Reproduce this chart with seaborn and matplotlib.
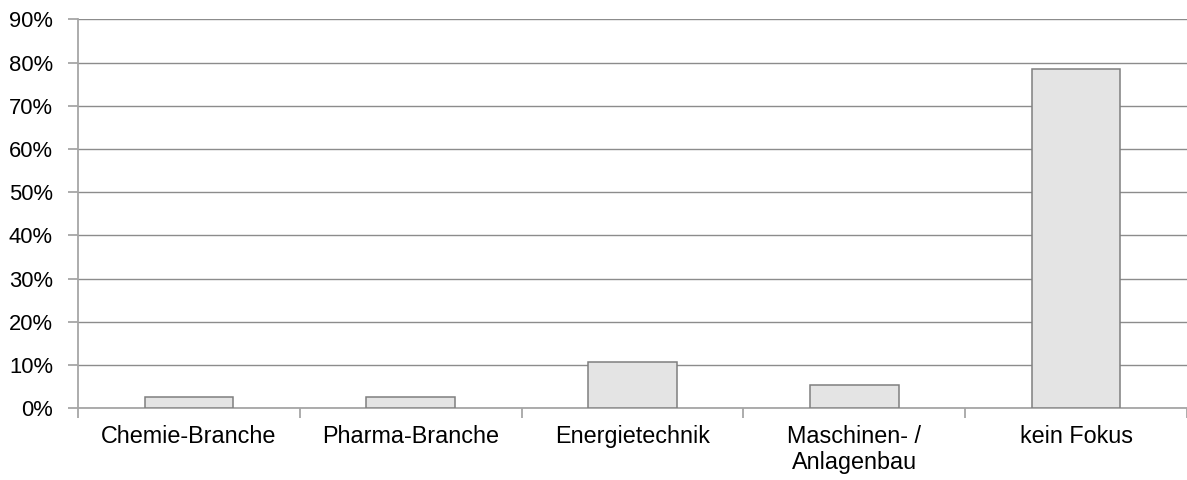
import matplotlib
matplotlib.use("Agg")
import matplotlib.pyplot as plt
from matplotlib.ticker import FixedLocator, PercentFormatter
import seaborn as sns
import pandas as pd

# Anteil der Unternehmen nach Branchenfokus
categories = ["Chemie-Branche", "Pharma-Branche", "Energietechnik",
              "Maschinen- /\nAnlagenbau", "kein Fokus"]
shares = [2.7, 2.7, 10.8, 5.4, 78.4]

sns.set_theme(style="white")
plt.rcParams["font.family"] = ["Liberation Sans", "DejaVu Sans"]

df = pd.DataFrame({"Kategorie": categories, "Anteil": shares})

fig = plt.figure(figsize=(11.87, 4.8), dpi=100)
ax = fig.add_axes([0.0657, 0.1494, 0.9343, 0.8104])

sns.barplot(data=df, x="Kategorie", y="Anteil", ax=ax,
            color="#e4e4e4", saturation=1, width=0.4,
            edgecolor="#7f7f7f", linewidth=1.1, zorder=3)

ax.set_ylim(0, 90)
ax.set_xlim(-0.5, len(categories) - 0.5)
ax.set_yticks(range(0, 91, 10))
ax.yaxis.set_major_formatter(PercentFormatter(decimals=0))
ax.grid(axis="y", color="#8c8c8c", linewidth=1.0, zorder=0)
ax.set_axisbelow(True)

for side in ("top", "right"):
    ax.spines[side].set_visible(False)
for side in ("left", "bottom"):
    ax.spines[side].set_color("#a6a6a6")
    ax.spines[side].set_linewidth(1.3)

# category separators below the axis
ax.xaxis.set_minor_locator(FixedLocator([i - 0.5 for i in range(len(categories) + 1)]))
ax.tick_params(axis="x", which="minor", length=7, width=1.3, color="#a6a6a6",
               direction="out", bottom=True)
ax.tick_params(axis="x", which="major", length=0, pad=12, labelsize=16.8,
               labelcolor="black")
ax.tick_params(axis="y", which="major", length=7, width=1.3, color="#a6a6a6",
               direction="out", left=True, pad=11, labelsize=15.8,
               labelcolor="black")
for lbl in ax.get_xticklabels():
    lbl.set_linespacing(1.15)

ax.set_xlabel("")
ax.set_ylabel("")

fig.savefig("out.png", dpi=100)
